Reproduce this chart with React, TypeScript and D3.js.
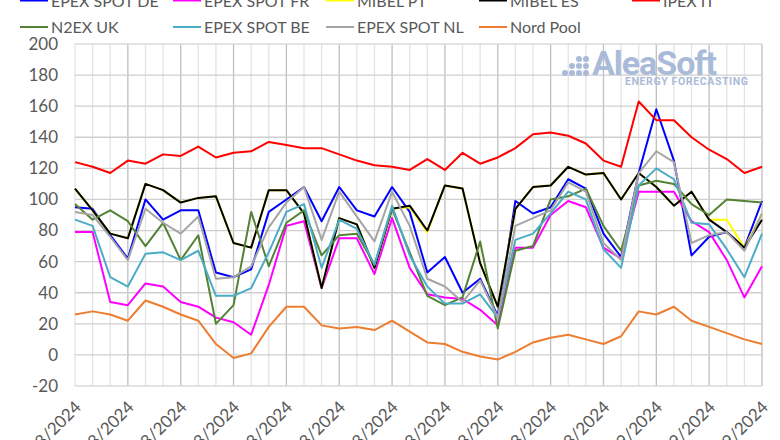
import React, { useEffect, useRef } from 'react';
import * as d3 from 'd3';

// daily prices, €/MWh
const dates = [
  '01/08/2024', '02/08/2024', '03/08/2024', '04/08/2024', '05/08/2024', '06/08/2024', '07/08/2024', '08/08/2024',
  '09/08/2024', '10/08/2024', '11/08/2024', '12/08/2024', '13/08/2024', '14/08/2024', '15/08/2024', '16/08/2024',
  '17/08/2024', '18/08/2024', '19/08/2024', '20/08/2024', '21/08/2024', '22/08/2024', '23/08/2024', '24/08/2024',
  '25/08/2024', '26/08/2024', '27/08/2024', '28/08/2024', '29/08/2024', '30/08/2024', '31/08/2024', '01/09/2024',
  '02/09/2024', '03/09/2024', '04/09/2024', '05/09/2024', '06/09/2024', '07/09/2024', '08/09/2024', '09/09/2024',
];

const epexDE = [95, 94, 77, 62, 100, 87, 93, 93, 53, 50, 55, 92, 100, 108, 86, 108, 93, 89, 108, 92, 53, 63, 40, 49, 25, 99, 91, 95, 113, 107, 78, 63, 117, 158, 125, 64, 76, 79, 69, 99];
const epexFR = [79, 79, 34, 32, 46, 44, 34, 31, 24, 21, 13, 45, 83, 86, 43, 75, 75, 52, 88, 56, 39, 37, 36, 29, 19, 69, 69, 90, 99, 95, 69, 62, 105, 105, 105, 86, 79, 61, 37, 57];
const mibelPT = [107, 93, 78, 75, 110, 106, 98, 101, 102, 72, 69, 106, 106, 91, 43, 88, 84, 56, 94, 95, 79, 109, 107, 59, 31, 94, 108, 109, 121, 116, 117, 100, 117, 108, 96, 105, 87, 87, 69, 91];
const mibelES = [107, 93, 78, 75, 110, 106, 98, 101, 102, 72, 69, 106, 106, 91, 43, 88, 84, 56, 94, 96, 80, 109, 107, 59, 31, 94, 108, 109, 121, 116, 117, 100, 117, 108, 96, 105, 87, 79, 69, 87];
const ipexIT = [124, 121, 117, 125, 123, 129, 128, 134, 127, 130, 131, 137, 135, 133, 133, 129, 125, 122, 121, 119, 126, 119, 130, 123, 127, 133, 142, 143, 141, 136, 125, 121, 163, 151, 151, 140, 132, 126, 117, 121];
const n2exUK = [97, 87, 93, 86, 70, 85, 61, 77, 20, 32, 92, 57, 85, 93, 64, 77, 78, 58, 94, 66, 38, 32, 37, 73, 17, 67, 70, 100, 102, 107, 83, 67, 109, 112, 110, 97, 90, 100, 99, 98];
const epexBE = [87, 83, 50, 44, 65, 66, 61, 67, 38, 38, 43, 66, 92, 97, 56, 87, 81, 58, 96, 64, 44, 33, 33, 39, 24, 74, 78, 91, 105, 100, 68, 56, 109, 120, 113, 85, 84, 68, 50, 78];
const epexNL = [92, 90, 76, 61, 94, 85, 78, 89, 49, 50, 57, 82, 98, 108, 74, 105, 89, 73, 105, 83, 49, 44, 34, 48, 24, 83, 88, 93, 111, 105, 72, 61, 117, 131, 124, 72, 77, 79, 67, 91];
const nordPool = [26, 28, 26, 22, 35, 31, 26, 22, 7, -2, 1, 18, 31, 31, 19, 17, 18, 16, 22, 15, 8, 7, 2, -1, -3, 2, 8, 11, 13, 10, 7, 12, 28, 26, 31, 22, 18, 14, 10, 7];

const seriesNames = ['EPEX SPOT DE', 'EPEX SPOT FR', 'MIBEL PT', 'MIBEL ES', 'IPEX IT', 'N2EX UK', 'EPEX SPOT BE', 'EPEX SPOT NL', 'Nord Pool'];
const seriesValues = [epexDE, epexFR, mibelPT, mibelES, ipexIT, n2exUK, epexBE, epexNL, nordPool];
const seriesColors = ['#0000ff', '#ff00ff', '#ffff00', '#000000', '#ff0000', '#548235', '#4bacc6', '#a5a5a5', '#ed7d31'];

const yTicks = [-20, 0, 20, 40, 60, 80, 100, 120, 140, 160, 180, 200];

const App = () => {
  const svgRef = useRef(null);

  useEffect(() => {
    const svg = d3.select(svgRef.current);
    svg.selectAll('*').remove();

    const width = 780;
    const height = 440;
    const left = 75, right = 762, top = 44, bottom = 386;
    const font = 'Lato, "Open Sans", sans-serif';

    const x = d3.scalePoint().domain(dates).range([left, right]);
    const y = d3.scaleLinear().domain([-20, 200]).range([bottom, top]);

    svg.attr('width', width).attr('height', height);
    svg.append('rect').attr('width', width).attr('height', height).attr('fill', '#fff');

    // vertical gridlines, darker every third day
    svg.append('g')
      .selectAll('line')
      .data(dates)
      .enter()
      .append('line')
      .attr('x1', (d) => x(d))
      .attr('x2', (d) => x(d))
      .attr('y1', top)
      .attr('y2', bottom)
      .attr('stroke', (d, i) => (i % 3 === 0 && i > 0 ? '#bfbfbf' : '#e3e3e3'))
      .attr('stroke-width', 1.3);

    // horizontal gridlines
    svg.append('g')
      .selectAll('line')
      .data(yTicks)
      .enter()
      .append('line')
      .attr('x1', left)
      .attr('x2', right)
      .attr('y1', (d) => y(d))
      .attr('y2', (d) => y(d))
      .attr('stroke', (d) => (d === 200 || d === -20 ? '#dadada' : '#cfcfcf'))
      .attr('stroke-width', 1.3);

    // y labels
    svg.append('g')
      .selectAll('text')
      .data(yTicks)
      .enter()
      .append('text')
      .attr('x', 58)
      .attr('y', (d) => y(d))
      .attr('dy', '0.35em')
      .attr('text-anchor', 'end')
      .attr('font-family', font)
      .attr('font-size', 17)
      .attr('fill', '#595959')
      .text((d) => d);

    // x labels, rotated (cut off by the bottom edge like the original)
    svg.append('g')
      .selectAll('text')
      .data(dates.filter((d, i) => i % 3 === 0))
      .enter()
      .append('text')
      .attr('transform', (d) => `translate(${x(d) + 3},${bottom + 18}) rotate(-45)`)
      .attr('text-anchor', 'end')
      .attr('dy', '0.35em')
      .attr('font-family', font)
      .attr('font-size', 17)
      .attr('fill', '#595959')
      .text((d) => d);

    // watermark
    const wm = svg.append('g').attr('fill', '#a9bbd9');
    const dots = [[0, 2], [1, 1], [1, 2], [2, 0], [2, 1], [2, 2], [3, 0], [3, 1], [3, 2]];
    wm.selectAll('circle')
      .data(dots)
      .enter()
      .append('circle')
      .attr('cx', (d) => 565 + d[0] * 7)
      .attr('cy', (d) => 59 + d[1] * 7)
      .attr('r', 3);
    wm.append('text')
      .attr('x', 592)
      .attr('y', 75)
      .attr('font-family', 'Roboto, sans-serif')
      .attr('font-weight', 'bold')
      .attr('font-size', 34)
      .attr('textLength', 125)
      .text('AleaSoft');
    wm.append('text')
      .attr('x', 625)
      .attr('y', 85)
      .attr('font-family', 'Roboto, sans-serif')
      .attr('font-weight', 'bold')
      .attr('font-size', 10.5)
      .attr('textLength', 123)
      .text('ENERGY FORECASTING');

    const line = d3.line()
      .x((d, i) => x(dates[i]))
      .y((d) => y(d));

    svg.append('g')
      .selectAll('path')
      .data(seriesValues)
      .enter()
      .append('path')
      .attr('fill', 'none')
      .attr('stroke', (d, i) => seriesColors[i])
      .attr('stroke-width', 2)
      .attr('stroke-linejoin', 'round')
      .attr('d', line);

    // legend
    const legend = svg.append('g')
      .selectAll('g')
      .data(seriesNames)
      .enter()
      .append('g')
      .attr('transform', (d, i) => `translate(${20 + (i < 5 ? i : i - 5) * 153},${i < 5 ? 0.5 : 27})`);
    legend.append('line')
      .attr('x1', 0)
      .attr('x2', 28)
      .attr('stroke', (d, i) => seriesColors[i])
      .attr('stroke-width', 2);
    legend.append('text')
      .attr('x', 31)
      .attr('y', 6)
      .attr('font-family', font)
      .attr('font-size', 16)
      .attr('fill', '#595959')
      .text((d) => d);
  }, []);

  return (
    <div style={{ position: 'absolute', left: 0, top: 0 }}>
      <svg ref={svgRef} style={{ display: 'block' }}></svg>
    </div>
  );
};

export default App;
